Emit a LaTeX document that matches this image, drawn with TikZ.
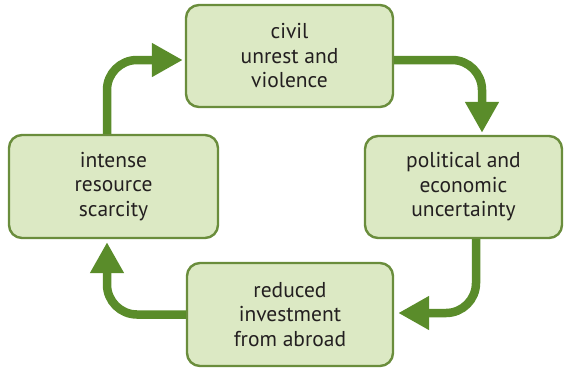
\documentclass[tikz,border=0pt]{standalone}
\usepackage{fontspec}
\setmainfont{PT Sans}
\usetikzlibrary{arrows.meta,calc}
\definecolor{boxfill}{HTML}{DCE9C4}
\definecolor{boxline}{HTML}{6A8D3C}
\definecolor{arrowgreen}{HTML}{5A8C2A}
\definecolor{txt}{HTML}{231F20}
\tikzset{
  cyclebox/.style={draw=boxline, fill=boxfill, line width=2.4pt, rounded corners=13pt,
    align=center, text=txt, font=\fontsize{21.5}{24.5}\selectfont, inner sep=0pt},
  cyclearrow/.style={draw=arrowgreen, line width=8.5pt, rounded corners=30pt,
    -{Triangle[length=31pt,width=32pt]}}
}
\begin{document}
\begin{tikzpicture}[x=1pt,y=-1pt]
\useasboundingbox (0,0) rectangle (564,370);
\node[cyclebox, minimum width=207pt, minimum height=102pt] (top) at (289.5,56) {civil\\unrest and\\violence};
\node[cyclebox, minimum width=197pt, minimum height=102pt] (right) at (463.5,187) {political and\\economic\\uncertainty};
\node[cyclebox, minimum width=209pt, minimum height=103pt] (left) at (113.5,186.5) {intense\\resource\\scarcity};
\node[cyclebox, minimum width=206pt, minimum height=103pt] (bottom) at (290,314.5) {reduced\\investment\\from abroad};
\draw[cyclearrow] ($(top.east)+(0,4)$) -| ($(right.north)+(18.5,-2)$);
\draw[cyclearrow] ($(right.south)+(12.5,0)$) |- ($(bottom.east)+(4,-1.5)$);
\draw[cyclearrow] (bottom.west) -| ($(left.south)+(-6.5,3)$);
\draw[cyclearrow] ($(left.north)+(-6.5,0)$) |- ($(top.west)+(-2,4)$);
\end{tikzpicture}
\end{document}
